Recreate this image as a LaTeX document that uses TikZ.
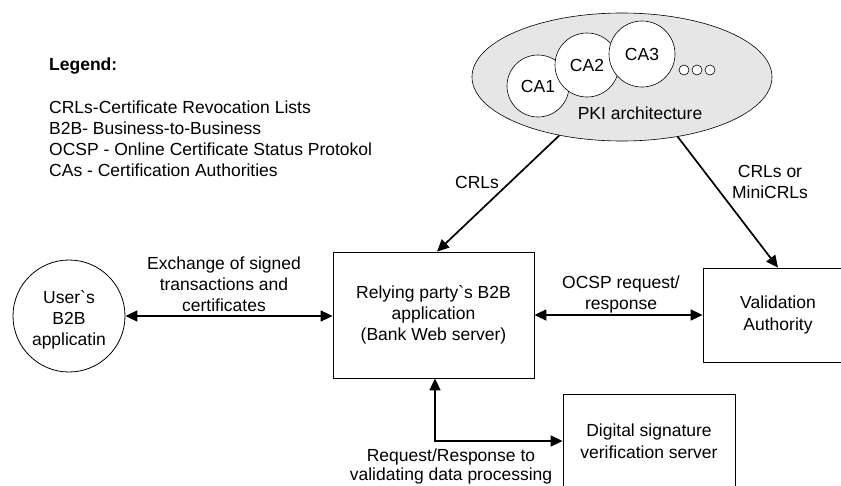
\documentclass[tikz,border=0pt]{standalone}
\usepackage{fontspec}
\setmainfont{Liberation Sans}
\usepackage{tikz}
\usetikzlibrary{arrows.meta,positioning,shapes.geometric,calc}
\definecolor{pkigray}{RGB}{230,230,230}

\begin{document}
\begin{tikzpicture}[x=1pt,y=-1pt,font=\fontsize{17.5}{21}\selectfont,align=center,
  >={Triangle[length=12pt,width=11pt]},
  box/.style={draw,line width=0.8pt,inner sep=0},
  ca/.style={circle,draw,line width=0.6pt,fill=white,inner sep=0},
  arr/.style={line width=1.7pt}]
   \path[use as bounding box] (0,0) rectangle (841,485);
   \clip (0,0) rectangle (841,485);
   \node (legend) at (49,57.5)[anchor=north west,align=left,inner sep=0] {\bf Legend:\\[22pt]
    CRLs-Certificate Revocation Lists\\
    B2B- Business-to-Business\\
    OCSP - Online Certificate Status Protokol\\
    CAs - Certification Authorities};
   \node (pki) at (622,77)[ellipse,draw,line width=0.6pt,fill=pkigray,minimum width=300pt,minimum height=128pt,inner sep=0] {};
   \node (ca1) at (538,86)[ca,minimum size=62pt] {};
   \node (ca2) at (587,65)[ca,minimum size=64pt] {};
   \node (ca3) at (642,54)[ca,minimum size=66pt] {};
   \node at (ca1) {CA1};
   \node at (ca2) {CA2};
   \node at (ca3) {CA3};
   \foreach \x in {684,697,710} {\node at (\x,70)[ca,minimum size=10pt] {};}
   \node (pkilabel) at (640,113) {PKI architecture};
   \node (user) at (69,316)[circle,box,minimum size=112pt] {};
   \node at (69,320) {User\textasciigrave s\\B2B\\applicatin};
   \node (rel) at (433.5,315)[box,minimum width=201pt,minimum height=126pt] {Relying party\textasciigrave s B2B\\application\\(Bank Web server)};
   \node (val) at (778,315)[box,minimum width=150pt,minimum height=94pt,font=\fontsize{17.5}{22}\selectfont] {Validation\\Authority};
   \node (dig) at (649,441)[box,minimum width=172pt,minimum height=94pt,font=\fontsize{17.5}{22}\selectfont] {Digital signature\\verification server};
   \draw[arr,<->] (user.east) -- (user.east -| rel.west);
   \draw[arr,<->] (rel.east) -- (val.west);
   \draw[arr,->] (pki.223.6) -- ($(rel.north)+(3.5,0)$);
   \draw[arr,->] (pki.313.5) -- (val.north);
   \draw[arr,<->] ($(rel.south)+(1.5,0)$) |- (dig.west);
   \node (exlabel) at (224,284) {Exchange of signed\\transactions and\\certificates};
   \node (ocsplabel) at (621,294) {OCSP request/\\response};
   \node (crllabel) at (477,182) {CRLs};
   \node (minilabel) at (770,182) {CRLs or\\MiniCRLs};
   \node (reqlabel) at (451,466)[font=\fontsize{17.5}{19}\selectfont] {Request/Response to\\validating data processing};
\end{tikzpicture}
\end{document}
